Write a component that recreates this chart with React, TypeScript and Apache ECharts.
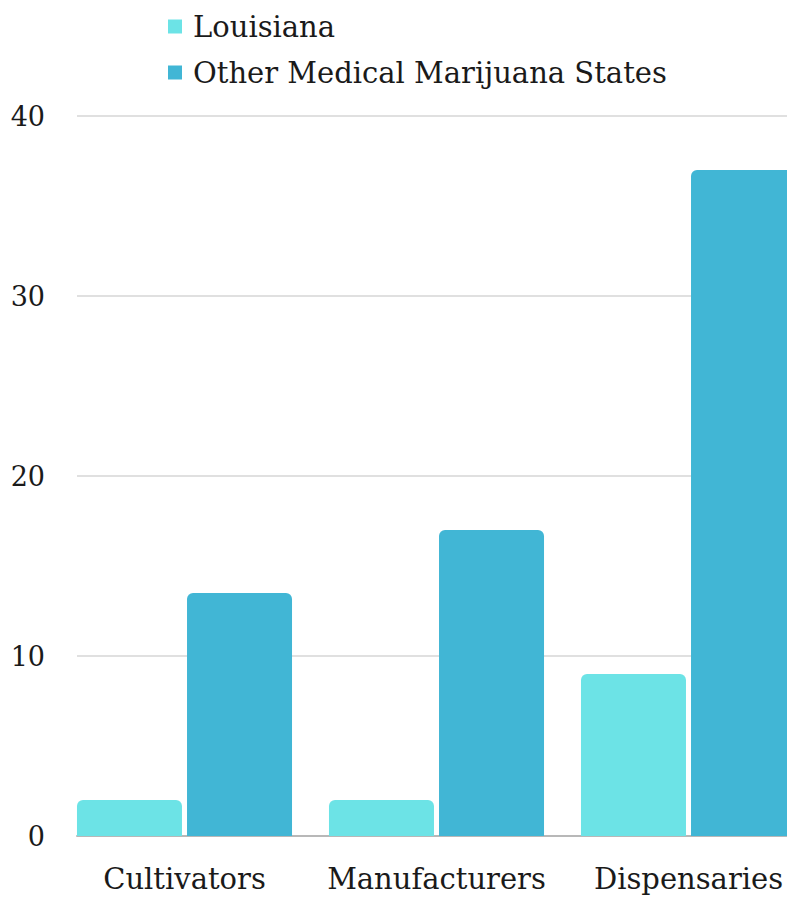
import React, { useEffect, useRef } from "react";
import * as echarts from "echarts";

const categories = ["Cultivators", "Manufacturers", "Dispensaries"];
const seriesNames = ["Louisiana", "Other Medical Marijuana States"];
const louisiana = [2, 2, 9];
const otherStates = [13.5, 17, 37];
const yTicks = { min: 0, max: 40, interval: 10 };

const FONT = "DejaVu Serif";

export default function App() {
  const ref = useRef<HTMLDivElement>(null);
  useEffect(() => {
    document.body.style.margin = "0";
    const chart = echarts.init(ref.current!, null, { renderer: "svg" });
    chart.setOption({
      animation: false,
      backgroundColor: "#ffffff",
      color: ["#6ce3e6", "#41b6d5"],
      textStyle: { fontFamily: FONT },
      legend: {
        orient: "vertical",
        left: 163,
        top: 7,
        itemWidth: 14,
        itemHeight: 14,
        itemGap: 17,
        icon: "rect",
        data: seriesNames,
        textStyle: {
          fontFamily: FONT,
          fontSize: 29,
          color: "#1a1a1a",
          padding: [0, 0, 0, 6],
        },
      },
      grid: [
        { left: 58.5, width: 756, top: 116, bottom: 62, outerBoundsMode: "none" },
        { left: 77, width: 737.5, top: 116, bottom: 62, outerBoundsMode: "none" },
      ],
      xAxis: [
        {
          type: "category",
          gridIndex: 0,
          data: categories,
          axisLine: { show: false },
          axisTick: { show: false },
          axisLabel: {
            interval: 0,
            hideOverlap: false,
            fontFamily: FONT,
            fontSize: 29,
            color: "#1a1a1a",
            margin: 28,
          },
        },
        {
          type: "value",
          gridIndex: 1,
          min: 0,
          max: 1,
          axisLine: { show: true, lineStyle: { color: "#b8b8b8", width: 2 } },
          axisTick: { show: false },
          axisLabel: { show: false },
          splitLine: { show: false },
        },
      ],
      yAxis: [
        {
          type: "value",
          gridIndex: 0,
          min: yTicks.min,
          max: yTicks.max,
          interval: yTicks.interval,
          show: false,
          splitLine: { show: false },
        },
        {
          type: "value",
          gridIndex: 1,
          min: yTicks.min,
          max: yTicks.max,
          interval: yTicks.interval,
          axisLine: { show: false },
          axisTick: { show: false },
          axisLabel: {
            fontFamily: FONT,
            fontSize: 27,
            color: "#1a1a1a",
            margin: 32,
          },
          splitLine: { lineStyle: { color: "#e0e0e0", width: 2 } },
        },
      ],
      series: [
        {
          name: seriesNames[0],
          type: "bar",
          xAxisIndex: 0,
          yAxisIndex: 0,
          data: louisiana,
          barWidth: 105,
          barGap: "4.8%",
          itemStyle: { borderRadius: [6, 6, 0, 0] },
          z: 3,
        },
        {
          name: seriesNames[1],
          type: "bar",
          xAxisIndex: 0,
          yAxisIndex: 0,
          data: otherStates,
          barWidth: 105,
          barGap: "4.8%",
          itemStyle: { borderRadius: [6, 6, 0, 0] },
          z: 3,
        },
      ],
    });
    return () => chart.dispose();
  }, []);
  return <div ref={ref} style={{ width: 787, height: 898 }} />;
}
